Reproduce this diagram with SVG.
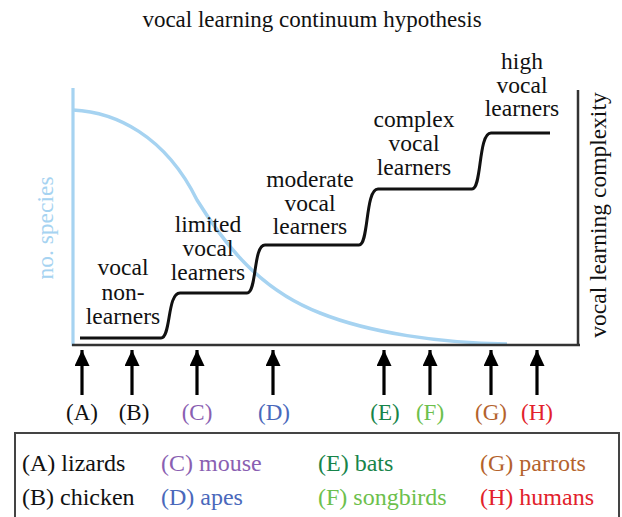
<svg xmlns="http://www.w3.org/2000/svg" width="622" height="517" viewBox="0 0 622 517" font-family="'Liberation Serif', 'DejaVu Serif', serif">
  <style>
    text { font-family: 'Liberation Serif', 'DejaVu Serif', serif; }
    .title { font-size: 23px; fill: #111; text-anchor: middle; }
    .stage { font-size: 23.5px; fill: #111; text-anchor: middle; }
    .axislabel { font-size: 23.5px; text-anchor: middle; }
    .tick { font-size: 23px; text-anchor: middle; }
    .legend { font-size: 24px; }
    .arrow { stroke: #000; stroke-width: 3.2; marker-end: url(#head); }
    .cA { fill: #111; } .cB { fill: #111; }
    .cC { fill: #8a5fb2; } .cD { fill: #4a68bb; }
    .cE { fill: #17844a; } .cF { fill: #6cc04c; }
    .cG { fill: #b4622c; } .cH { fill: #e2212b; }
  </style>
  <defs>
    <marker id="head" markerUnits="userSpaceOnUse" markerWidth="16" markerHeight="18" refX="16" refY="7.5" orient="auto">
      <path d="M0,0 L16,7.5 L0,15 Z" fill="#000"/>
    </marker>
  </defs>

  <rect width="622" height="517" fill="#fff"/>

  <text class="title" x="312" y="27">vocal learning continuum hypothesis</text>

  <!-- plot frame and curves -->
  <g id="plot">
    <line x1="73" y1="88" x2="73" y2="346" stroke="#a6d3f1" stroke-width="3.2"/>
    <path d="M73,110 C115,112 165,135 197,200 C225,245 260,290 320,313 C370,333 440,343 507,344" fill="none" stroke="#a6d3f1" stroke-width="3.5"/>
    <line x1="72" y1="345" x2="580" y2="345" stroke="#333" stroke-width="2.5"/>
    <line x1="578" y1="90" x2="578" y2="346" stroke="#333" stroke-width="2.5"/>
    <path d="M80,338 H161 C171,338 167,293 180,293 H247 C257,293 253,245 265,245 H359 C369,245 365,189 378,189 H472 C482,189 478,133 491,133 H550" fill="none" stroke="#111" stroke-width="3"/>
    <text class="axislabel" fill="#a6d3f1" transform="translate(53,228) rotate(-90)">no. species</text>
    <text class="axislabel" fill="#111" transform="translate(606,215) rotate(-90)">vocal learning complexity</text>
  </g>

  <!-- stage labels -->
  <g id="stage-non">
    <text class="stage" x="123" y="275">vocal</text>
    <text class="stage" x="123" y="300">non-</text>
    <text class="stage" x="123" y="324">learners</text>
  </g>
  <g id="stage-limited">
    <text class="stage" x="208" y="232">limited</text>
    <text class="stage" x="208" y="256">vocal</text>
    <text class="stage" x="208" y="280">learners</text>
  </g>
  <g id="stage-moderate">
    <text class="stage" x="310" y="187">moderate</text>
    <text class="stage" x="310" y="211">vocal</text>
    <text class="stage" x="310" y="234">learners</text>
  </g>
  <g id="stage-complex">
    <text class="stage" x="414" y="127">complex</text>
    <text class="stage" x="414" y="151">vocal</text>
    <text class="stage" x="414" y="175">learners</text>
  </g>
  <g id="stage-high">
    <text class="stage" x="522" y="69">high</text>
    <text class="stage" x="522" y="93">vocal</text>
    <text class="stage" x="522" y="116">learners</text>
  </g>

  <!-- species markers -->
  <g id="connectors">
    <line class="arrow" x1="82" y1="395" x2="82" y2="350"/>
    <line class="arrow" x1="132" y1="395" x2="132" y2="350"/>
    <line class="arrow" x1="197" y1="395" x2="197" y2="350"/>
    <line class="arrow" x1="273" y1="395" x2="273" y2="350"/>
    <line class="arrow" x1="384" y1="395" x2="384" y2="350"/>
    <line class="arrow" x1="430" y1="395" x2="430" y2="350"/>
    <line class="arrow" x1="491" y1="395" x2="491" y2="350"/>
    <line class="arrow" x1="537" y1="395" x2="537" y2="350"/>
  </g>
  <g id="ticks">
    <text class="tick cA" x="82" y="420">(A)</text>
    <text class="tick cB" x="134" y="420">(B)</text>
    <text class="tick cC" x="197" y="420">(C)</text>
    <text class="tick cD" x="274" y="420">(D)</text>
    <text class="tick cE" x="385" y="420">(E)</text>
    <text class="tick cF" x="430" y="420">(F)</text>
    <text class="tick cG" x="491" y="420">(G)</text>
    <text class="tick cH" x="537" y="420">(H)</text>
  </g>

  <!-- key -->
  <g id="legend">
    <rect x="15" y="433" width="604" height="100" fill="none" stroke="#444" stroke-width="2"/>
    <text class="legend cA" x="22" y="471">(A) lizards</text>
    <text class="legend cB" x="22" y="505">(B) chicken</text>
    <text class="legend cC" x="161" y="471">(C) mouse</text>
    <text class="legend cD" x="161" y="505">(D) apes</text>
    <text class="legend cE" x="318" y="471">(E) bats</text>
    <text class="legend cF" x="318" y="505">(F) songbirds</text>
    <text class="legend cG" x="480" y="471">(G) parrots</text>
    <text class="legend cH" x="480" y="505">(H) humans</text>
  </g>
</svg>
